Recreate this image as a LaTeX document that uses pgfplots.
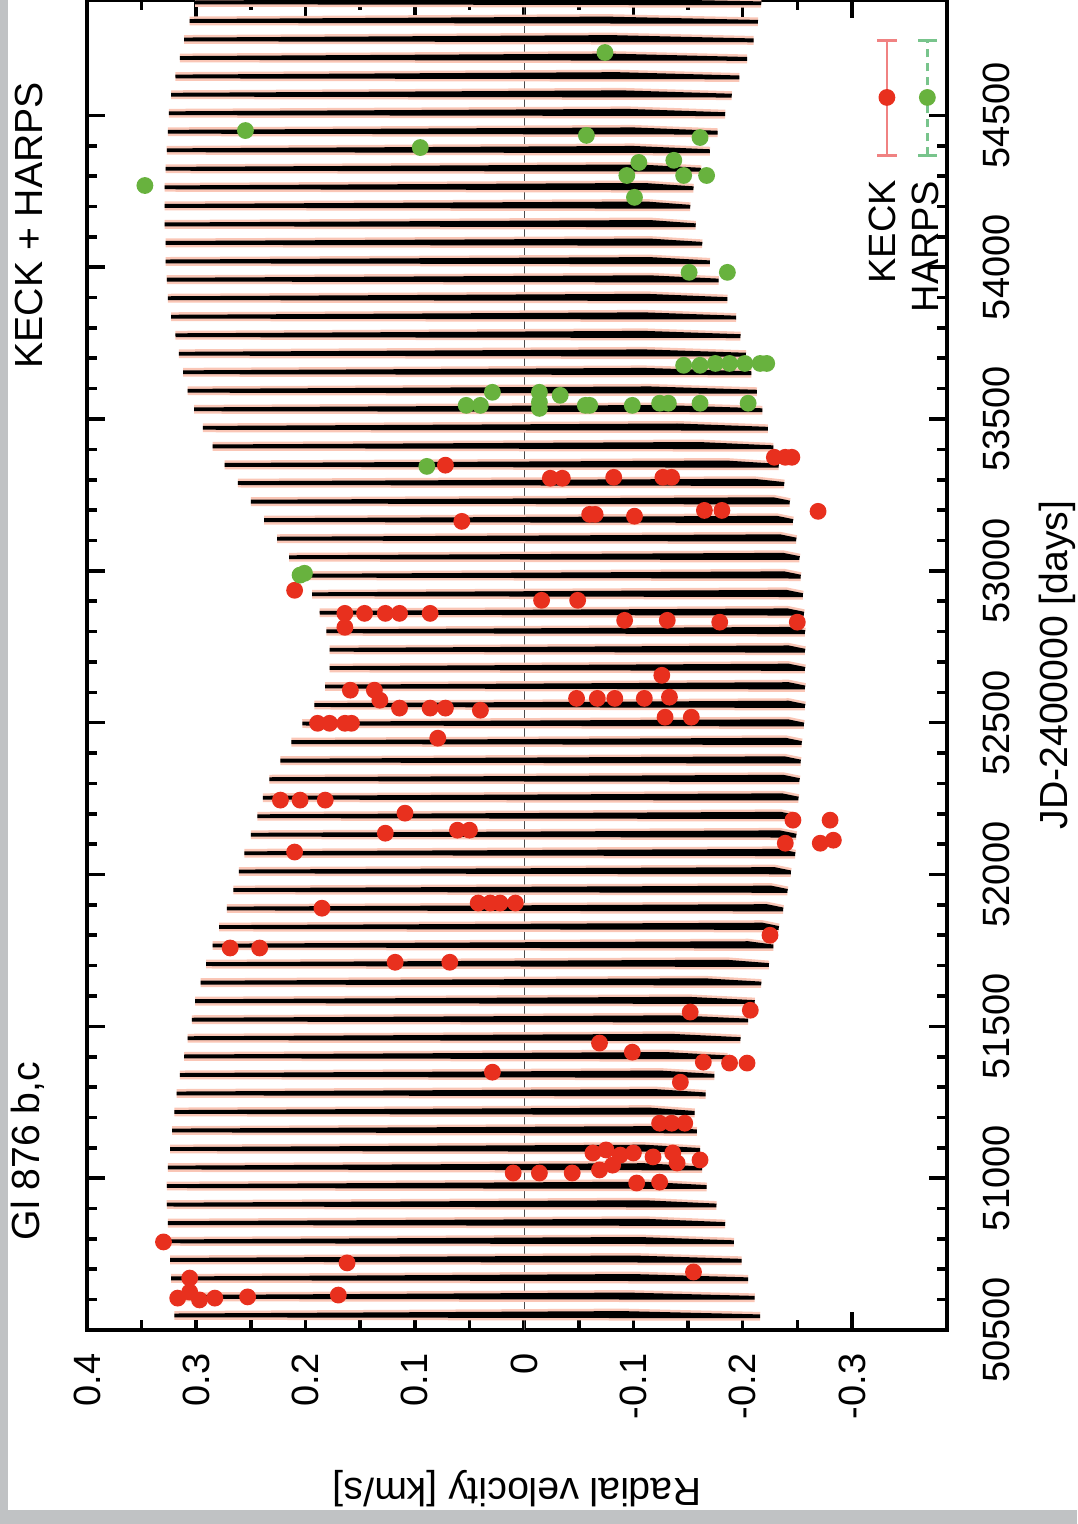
\documentclass[border=0pt]{standalone}
\usepackage{pgfplots}
\usepackage{pgfplotstable}
\usepackage{fontspec}
\setmainfont{Liberation Sans}
\pgfplotsset{compat=1.18}

\definecolor{keckred}{RGB}{232,48,30}
\definecolor{harpsgreen}{RGB}{104,178,62}
\definecolor{halo}{RGB}{250,198,182}
\definecolor{stripgray}{RGB}{192,194,196}
\definecolor{keckpink}{RGB}{240,130,130}
\definecolor{harpsline}{RGB}{120,196,140}

\newcommand\labfont{\fontsize{9.8}{11}\selectfont}
\newcommand\tickfont{\fontsize{9.5}{11}\selectfont}

% Two-planet model: one stroke per orbit of planet b (left tip = maximum,
% right end = minimum, kink = secondary minimum from planet c)
\pgfplotstableread[row sep=\\]{
x y\\
-0.216 50545\\ 0.320 50548\\ -0.090 50556\\ -0.216 50545\\ nan nan\\
-0.211 50606\\ 0.322 50609\\ -0.095 50617\\ -0.211 50606\\ nan nan\\
-0.205 50667\\ 0.323 50670\\ -0.100 50678\\ -0.205 50667\\ nan nan\\
-0.199 50728\\ 0.324 50731\\ -0.100 50739\\ -0.199 50728\\ nan nan\\
-0.192 50789\\ 0.325 50792\\ -0.105 50800\\ -0.192 50789\\ nan nan\\
-0.184 50849\\ 0.326 50852\\ -0.110 50860\\ -0.184 50849\\ nan nan\\
-0.176 50910\\ 0.327 50913\\ -0.110 50921\\ -0.176 50910\\ nan nan\\
-0.167 50971\\ 0.327 50974\\ -0.110 50982\\ -0.167 50971\\ nan nan\\
-0.163 51032\\ 0.326 51035\\ -0.110 51043\\ -0.163 51032\\ nan nan\\
-0.161 51093\\ 0.324 51096\\ -0.110 51104\\ -0.161 51093\\ nan nan\\
-0.158 51154\\ 0.322 51157\\ -0.115 51165\\ -0.158 51154\\ nan nan\\
-0.156 51215\\ 0.320 51218\\ -0.115 51226\\ -0.156 51215\\ nan nan\\
-0.166 51276\\ 0.318 51279\\ -0.120 51287\\ -0.166 51276\\ nan nan\\
-0.174 51337\\ 0.315 51340\\ -0.125 51348\\ -0.174 51337\\ nan nan\\
-0.186 51398\\ 0.311 51401\\ -0.130 51409\\ -0.186 51398\\ nan nan\\
-0.198 51458\\ 0.308 51461\\ -0.135 51469\\ -0.198 51458\\ nan nan\\
-0.205 51519\\ 0.304 51522\\ -0.140 51530\\ -0.205 51519\\ nan nan\\
-0.211 51580\\ 0.301 51583\\ -0.150 51591\\ -0.211 51580\\ nan nan\\
-0.217 51641\\ 0.296 51644\\ -0.165 51652\\ -0.217 51641\\ nan nan\\
-0.224 51702\\ 0.291 51705\\ -0.185 51713\\ -0.224 51702\\ nan nan\\
-0.228 51763\\ 0.285 51766\\ -0.205 51774\\ -0.228 51763\\ nan nan\\
-0.233 51824\\ 0.279 51827\\ -0.218 51835\\ -0.233 51824\\ nan nan\\
-0.237 51885\\ 0.272 51888\\ -0.222 51896\\ -0.237 51885\\ nan nan\\
-0.241 51946\\ 0.266 51949\\ -0.226 51957\\ -0.241 51946\\ nan nan\\
-0.244 52007\\ 0.261 52010\\ -0.229 52018\\ -0.244 52007\\ nan nan\\
-0.248 52067\\ 0.256 52070\\ -0.233 52078\\ -0.248 52067\\ nan nan\\
-0.249 52128\\ 0.250 52131\\ -0.234 52139\\ -0.249 52128\\ nan nan\\
-0.250 52189\\ 0.244 52192\\ -0.235 52200\\ -0.250 52189\\ nan nan\\
-0.251 52250\\ 0.239 52253\\ -0.236 52261\\ -0.251 52250\\ nan nan\\
-0.252 52311\\ 0.233 52314\\ -0.237 52322\\ -0.252 52311\\ nan nan\\
-0.253 52372\\ 0.223 52375\\ -0.238 52383\\ -0.253 52372\\ nan nan\\
-0.254 52433\\ 0.213 52436\\ -0.239 52444\\ -0.254 52433\\ nan nan\\
-0.256 52494\\ 0.203 52497\\ -0.241 52505\\ -0.256 52494\\ nan nan\\
-0.257 52555\\ 0.192 52558\\ -0.242 52566\\ -0.257 52555\\ nan nan\\
-0.257 52616\\ 0.182 52619\\ -0.242 52627\\ -0.257 52616\\ nan nan\\
-0.257 52677\\ 0.178 52680\\ -0.242 52688\\ -0.257 52677\\ nan nan\\
-0.257 52737\\ 0.178 52740\\ -0.242 52748\\ -0.257 52737\\ nan nan\\
-0.257 52798\\ 0.181 52801\\ -0.242 52809\\ -0.257 52798\\ nan nan\\
-0.256 52859\\ 0.187 52862\\ -0.241 52870\\ -0.256 52859\\ nan nan\\
-0.255 52920\\ 0.194 52923\\ -0.240 52931\\ -0.255 52920\\ nan nan\\
-0.253 52981\\ 0.205 52984\\ -0.238 52992\\ -0.253 52981\\ nan nan\\
-0.252 53042\\ 0.215 53045\\ -0.237 53053\\ -0.252 53042\\ nan nan\\
-0.249 53103\\ 0.226 53106\\ -0.234 53114\\ -0.249 53103\\ nan nan\\
-0.246 53164\\ 0.238 53167\\ -0.231 53175\\ -0.246 53164\\ nan nan\\
-0.243 53225\\ 0.250 53228\\ -0.228 53236\\ -0.243 53225\\ nan nan\\
-0.238 53286\\ 0.262 53289\\ -0.210 53297\\ -0.238 53286\\ nan nan\\
-0.233 53346\\ 0.274 53349\\ -0.185 53357\\ -0.233 53346\\ nan nan\\
-0.228 53407\\ 0.285 53410\\ -0.160 53418\\ -0.228 53407\\ nan nan\\
-0.223 53468\\ 0.294 53471\\ -0.140 53479\\ -0.223 53468\\ nan nan\\
-0.218 53529\\ 0.302 53532\\ -0.125 53540\\ -0.218 53529\\ nan nan\\
-0.213 53590\\ 0.308 53593\\ -0.115 53601\\ -0.213 53590\\ nan nan\\
-0.208 53651\\ 0.312 53654\\ -0.110 53662\\ -0.208 53651\\ nan nan\\
-0.203 53712\\ 0.316 53715\\ -0.110 53723\\ -0.203 53712\\ nan nan\\
-0.198 53773\\ 0.319 53776\\ -0.110 53784\\ -0.198 53773\\ nan nan\\
-0.194 53834\\ 0.323 53837\\ -0.110 53845\\ -0.194 53834\\ nan nan\\
-0.186 53895\\ 0.326 53898\\ -0.112 53906\\ -0.186 53895\\ nan nan\\
-0.178 53956\\ 0.327 53959\\ -0.115 53967\\ -0.178 53956\\ nan nan\\
-0.170 54016\\ 0.328 54019\\ -0.115 54027\\ -0.170 54016\\ nan nan\\
-0.163 54077\\ 0.328 54080\\ -0.115 54088\\ -0.163 54077\\ nan nan\\
-0.157 54138\\ 0.329 54141\\ -0.115 54149\\ -0.157 54138\\ nan nan\\
-0.152 54199\\ 0.329 54202\\ -0.112 54210\\ -0.152 54199\\ nan nan\\
-0.155 54260\\ 0.329 54263\\ -0.110 54271\\ -0.155 54260\\ nan nan\\
-0.162 54321\\ 0.328 54324\\ -0.105 54332\\ -0.162 54321\\ nan nan\\
-0.170 54382\\ 0.327 54385\\ -0.100 54393\\ -0.170 54382\\ nan nan\\
-0.177 54443\\ 0.326 54446\\ -0.100 54454\\ -0.177 54443\\ nan nan\\
-0.184 54504\\ 0.325 54507\\ -0.095 54515\\ -0.184 54504\\ nan nan\\
-0.190 54565\\ 0.323 54568\\ -0.090 54576\\ -0.190 54565\\ nan nan\\
-0.197 54625\\ 0.319 54628\\ -0.085 54636\\ -0.197 54625\\ nan nan\\
-0.204 54686\\ 0.315 54689\\ -0.080 54697\\ -0.204 54686\\ nan nan\\
-0.210 54747\\ 0.311 54750\\ -0.080 54758\\ -0.210 54747\\ nan nan\\
-0.214 54808\\ 0.306 54811\\ -0.075 54819\\ -0.214 54808\\ nan nan\\
-0.217 54869\\ 0.301 54872\\ -0.075 54879\\ -0.217 54869\\
}\model

% KECK radial velocities (km/s) vs JD-2400000
\pgfplotstableread[row sep=\\]{
rv jd\\
0.330 50790\\ 0.306 50671\\ 0.317 50605\\ 0.306 50625\\ 0.297 50599\\
0.283 50605\\ 0.253 50609\\ 0.170 50615\\ 0.162 50721\\ -0.155 50691\\
0.010 51017\\ -0.014 51017\\ -0.044 51017\\ -0.069 51027\\ -0.081 51043\\
-0.103 50984\\ -0.124 50987\\ -0.063 51083\\ -0.075 51093\\ -0.088 51076\\
-0.100 51083\\ -0.118 51070\\ -0.136 51083\\ -0.140 51050\\ -0.161 51060\\
-0.124 51181\\ -0.135 51181\\ -0.147 51181\\ -0.143 51316\\ -0.164 51382\\
-0.188 51379\\ -0.204 51379\\ -0.099 51415\\ -0.069 51445\\ 0.029 51349\\
-0.152 51547\\ -0.207 51553\\ 0.269 51758\\ 0.242 51758\\ 0.118 51711\\
0.068 51711\\ -0.225 51800\\ 0.185 51889\\ 0.042 51906\\ 0.031 51906\\
0.022 51906\\ 0.008 51906\\ 0.210 52074\\ 0.127 52136\\ 0.109 52202\\
0.061 52146\\ 0.050 52146\\ 0.223 52245\\ 0.205 52245\\ 0.182 52245\\
-0.239 52103\\ -0.246 52179\\ -0.271 52103\\ -0.280 52179\\ -0.283 52113\\
0.189 52498\\ 0.178 52498\\ 0.164 52498\\ 0.158 52498\\ 0.079 52449\\
0.114 52548\\ 0.086 52548\\ 0.072 52548\\ 0.040 52541\\ 0.159 52607\\
0.137 52607\\ 0.132 52574\\ -0.129 52518\\ -0.153 52518\\ -0.048 52580\\
-0.067 52580\\ -0.083 52580\\ -0.110 52580\\ -0.133 52584\\ -0.126 52656\\
0.164 52814\\ 0.210 52936\\ 0.164 52860\\ 0.146 52860\\ 0.127 52860\\
0.114 52860\\ 0.086 52860\\ -0.016 52903\\ -0.049 52903\\ -0.092 52837\\
-0.131 52837\\ -0.179 52831\\ -0.250 52831\\ 0.072 53348\\ 0.057 53163\\
-0.024 53305\\ -0.035 53305\\ -0.060 53186\\ -0.065 53186\\ -0.082 53308\\
-0.101 53180\\ -0.127 53308\\ -0.135 53308\\ -0.165 53199\\ -0.181 53199\\
-0.269 53196\\ -0.229 53374\\ -0.239 53374\\ -0.245 53374\\
}\keck

% HARPS radial velocities (km/s) vs JD-2400000
\pgfplotstableread[row sep=\\]{
rv jd\\
0.201 52992\\ 0.205 52986\\ 0.089 53344\\
0.053 53545\\ 0.040 53545\\ 0.029 53588\\ -0.014 53588\\ -0.014 53555\\
-0.014 53535\\ -0.033 53578\\ -0.056 53545\\ -0.060 53545\\ -0.099 53545\\
-0.124 53552\\ -0.132 53552\\ -0.161 53552\\ -0.205 53552\\
-0.146 53677\\ -0.161 53677\\ -0.175 53683\\ -0.188 53683\\ -0.202 53683\\
-0.216 53683\\ -0.222 53683\\
-0.151 53983\\ -0.186 53983\\
-0.101 54230\\ 0.347 54269\\ -0.094 54302\\ -0.146 54302\\ -0.167 54302\\
-0.105 54345\\ -0.137 54352\\ 0.095 54394\\ -0.161 54427\\ -0.057 54434\\
0.255 54450\\ -0.074 54707\\
}\harps

\begin{document}
\begin{tikzpicture}
\begin{axis}[
  name=ax,
  scale only axis,
  width=215pt, height=332.5pt,
  x dir=reverse,
  xmin=-0.387, xmax=0.4,
  ymin=50500, ymax=54880,
  xtick={-0.3,-0.2,-0.1,0,0.1,0.2,0.3,0.4},
  xticklabels={-0.3,-0.2,-0.1,0,0.1,0.2,0.3,0.4},
  minor x tick num=1,
  ytick={50500,51000,51500,52000,52500,53000,53500,54000,54500},
  yticklabels={50500,51000,51500,52000,52500,53000,53500,54000,54500},
  minor y tick num=4,
  yticklabel pos=right,
  tick align=inside,
  major tick length=4.4pt,
  minor tick length=2.5pt,
  every tick/.style={black, line width=0.9pt},
  axis line style={line width=1pt},
  xticklabel style={rotate=90, anchor=east, inner xsep=5.75pt, inner ysep=0pt, font=\tickfont},
  yticklabel style={rotate=90, anchor=north, inner ysep=8.75pt, inner xsep=0pt, font=\tickfont},
  xlabel={Radial velocity [km/s]},
  xlabel style={at={(axis description cs:0.5,-0.119)}, anchor=center, rotate=180, font=\labfont},
  ylabel={JD-2400000 [days]},
  ylabel style={at={(axis description cs:1.128,0.5)}, anchor=center, font=\labfont},
  unbounded coords=jump,
  clip=false,
]
% zero-velocity reference line
\addplot[black!70, line width=0.3pt] coordinates {(0,50500) (0,54880)};

% model curve (soft halo underneath, then the black line)
\addplot[halo, line width=2.2pt, line join=bevel] table[x=x, y=y] {\model};
\addplot[black, line width=0.95pt, line join=bevel] table[x=x, y=y] {\model};

% observations
\addplot[only marks, mark=*, mark size=1.9pt, color=keckred] table[x=rv, y=jd] {\keck};
\addplot[only marks, mark=*, mark size=1.9pt, color=harpsgreen] table[x=rv, y=jd] {\harps};

% legend
\addplot[keckpink, line width=0.7pt] coordinates {(-0.332,54368) (-0.332,54747)};
\addplot[keckpink, line width=0.7pt] coordinates {(-0.341,54368) (-0.323,54368) (nan,nan) (-0.341,54747) (-0.323,54747)};
\addplot[only marks, mark=*, mark size=1.9pt, color=keckred] coordinates {(-0.332,54559)};
\addplot[harpsline, line width=0.7pt, dash pattern=on 2pt off 1.5pt] coordinates {(-0.369,54368) (-0.369,54747)};
\addplot[harpsline, line width=0.7pt] coordinates {(-0.378,54368) (-0.360,54368) (nan,nan) (-0.378,54747) (-0.360,54747)};
\addplot[only marks, mark=*, mark size=1.9pt, color=harpsgreen] coordinates {(-0.369,54559)};
\node[rotate=90, anchor=east, inner sep=0pt, font=\tickfont] at (axis cs:-0.328,54290) {KECK};
\node[rotate=90, anchor=east, inner sep=0pt, font=\tickfont] at (axis cs:-0.367,54285) {HARPS};

% titles
\node[rotate=90, font=\labfont] at (axis cs:0.454,51089) {Gl 876 b,c};
\node[rotate=90, font=\labfont] at (axis cs:0.453,54138) {KECK + HARPS};
\end{axis}

\fill[stripgray] ([shift={(-21.75pt,-48.5pt)}]ax.south west) rectangle ([shift={(-19.75pt,0pt)}]ax.north west);
\fill[stripgray] ([shift={(-21.75pt,-48.5pt)}]ax.south west) rectangle ([shift={(32.5pt,-45pt)}]ax.south east);
\pgfresetboundingbox
\path[use as bounding box] ([shift={(-21.75pt,-48.5pt)}]ax.south west) rectangle ([shift={(32.5pt,0pt)}]ax.north east);
\end{tikzpicture}
\end{document}
